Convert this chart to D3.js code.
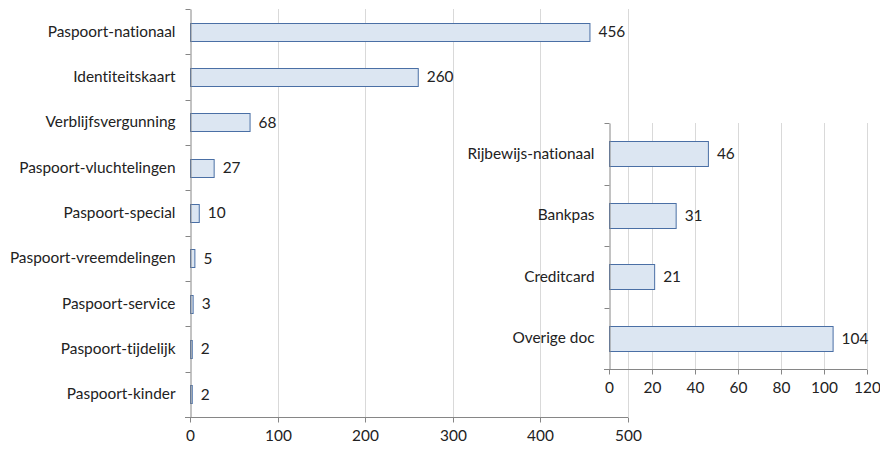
<!DOCTYPE html>
<html><head><meta charset="utf-8">
<script src="https://cdn.jsdelivr.net/npm/d3@7"></script>
<style>body{margin:0;background:#fff}text{font-family:Lato,"Open Sans",sans-serif;fill:#222;font-variant-ligatures:none;font-feature-settings:"liga" 0,"clig" 0}</style>
</head><body><svg id="c" width="880" height="450"></svg>
<script>
const mainCats = ["Paspoort-nationaal","Identiteitskaart","Verblijfsvergunning","Paspoort-vluchtelingen","Paspoort-special","Paspoort-vreemdelingen","Paspoort-service","Paspoort-tijdelijk","Paspoort-kinder"];
const mainVals = [456,260,68,27,10,5,3,2,2];
const mainTicks = [0,100,200,300,400,500];
const insetCats = ["Rijbewijs-nationaal","Bankpas","Creditcard","Overige doc"];
const insetVals = [46,31,21,104];
const insetTicks = [0,20,40,60,80,100,120];

const svg = d3.select("#c");
const FS = 15.4;

function drawChart(g, cats, vals, ticks, x0, x1, y0, y1, bandFrac) {
  const x = d3.scaleLinear().domain([0, ticks[ticks.length-1]]).range([x0, x1]);
  const y = d3.scaleBand().domain(cats).range([y0, y1]).paddingInner(bandFrac).paddingOuter(bandFrac/2);
  g.selectAll(".grid").data(ticks.slice(1)).join("line")
    .attr("x1", d => Math.round(x(d))+0.5).attr("x2", d => Math.round(x(d))+0.5)
    .attr("y1", y0).attr("y2", y1).attr("stroke", "#d9d9d9").attr("stroke-width", 1);
  g.selectAll(".bar").data(cats).join("rect")
    .attr("x", x(0)+0.5).attr("y", d => Math.round(y(d))+0.5)
    .attr("width", (d,i) => Math.max(0, x(vals[i]) - x(0)))
    .attr("height", Math.round(y.bandwidth()))
    .attr("fill", "#dce6f2").attr("stroke", "#4a6fa5").attr("stroke-width", 1);
  g.selectAll(".val").data(cats).join("text")
    .attr("x", (d,i) => x(vals[i]) + 9).attr("y", d => y(d) + y.bandwidth()/2)
    .attr("dy", "0.35em").attr("font-size", FS).text((d,i) => vals[i]);
  const ya = d3.axisLeft(y).tickSize(0).tickPadding(15);
  const yg = g.append("g").attr("transform", `translate(${Math.round(x(0))+0.5},0)`).call(ya);
  yg.select(".domain").attr("stroke", "#868686");
  yg.selectAll("text").attr("font-size", FS).style("font-family","Lato").attr("fill","#222");
  const sep = d3.range(cats.length+1).map(i => y0 + i*(y1-y0)/cats.length);
  g.selectAll(".sep").data(sep).join("line")
    .attr("x1", Math.round(x(0))+0.5-5).attr("x2", Math.round(x(0))+0.5)
    .attr("y1", d => Math.round(d)+0.5).attr("y2", d => Math.round(d)+0.5)
    .attr("stroke", "#868686");
  const xa = d3.axisBottom(x).tickValues(ticks).tickSize(5).tickPadding(8).tickSizeOuter(0);
  const xg = g.append("g").attr("transform", `translate(0,${Math.round(y1)+0.5})`).call(xa);
  xg.select(".domain").attr("stroke", "#868686").attr("d", `M${x0-5},0H${x1}`);
  xg.selectAll(".tick line").attr("stroke", "#868686");
  xg.selectAll(".tick").attr("transform", d => `translate(${Math.round(x(d))+0.5},0)`);
  xg.selectAll("text").attr("font-size", FS).style("font-family","Lato").attr("fill","#222");
}

drawChart(svg.append("g"), mainCats, mainVals, mainTicks, 190, 628, 9, 417, 0.6);
drawChart(svg.append("g"), insetCats, insetVals, insetTicks, 609, 867, 123, 369, 0.6);
</script></body></html>
